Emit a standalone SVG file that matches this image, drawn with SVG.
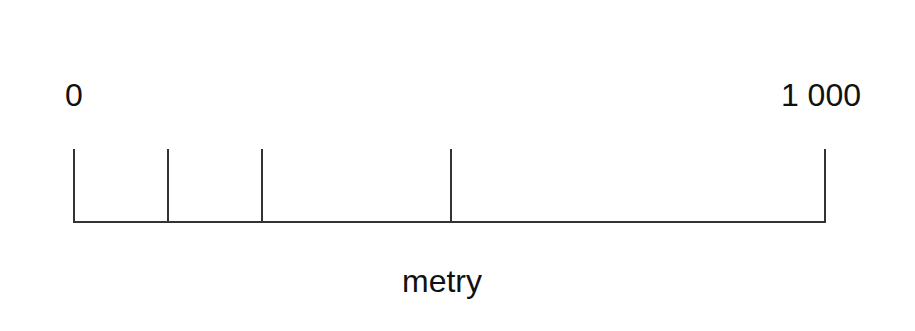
<svg xmlns="http://www.w3.org/2000/svg" width="915" height="331" viewBox="0 0 915 331">
<style>
.t{font-family:"Liberation Sans",Arial,sans-serif;font-size:32px;fill:#111}
.l{stroke:#333;stroke-width:2;fill:none}
</style>
<rect width="915" height="331" fill="#fff"/>
<g id="scale" class="l">
<path d="M74,149V222H825V149"/>
<path d="M168,149V222M262,149V222M451,149V222"/>
</g>
<g id="labels">
<text class="t" x="65" y="106">0</text>
<text class="t" x="861" y="106" text-anchor="end">1 000</text>
<text class="t" x="442" y="292" text-anchor="middle">metry</text>
</g>
</svg>
